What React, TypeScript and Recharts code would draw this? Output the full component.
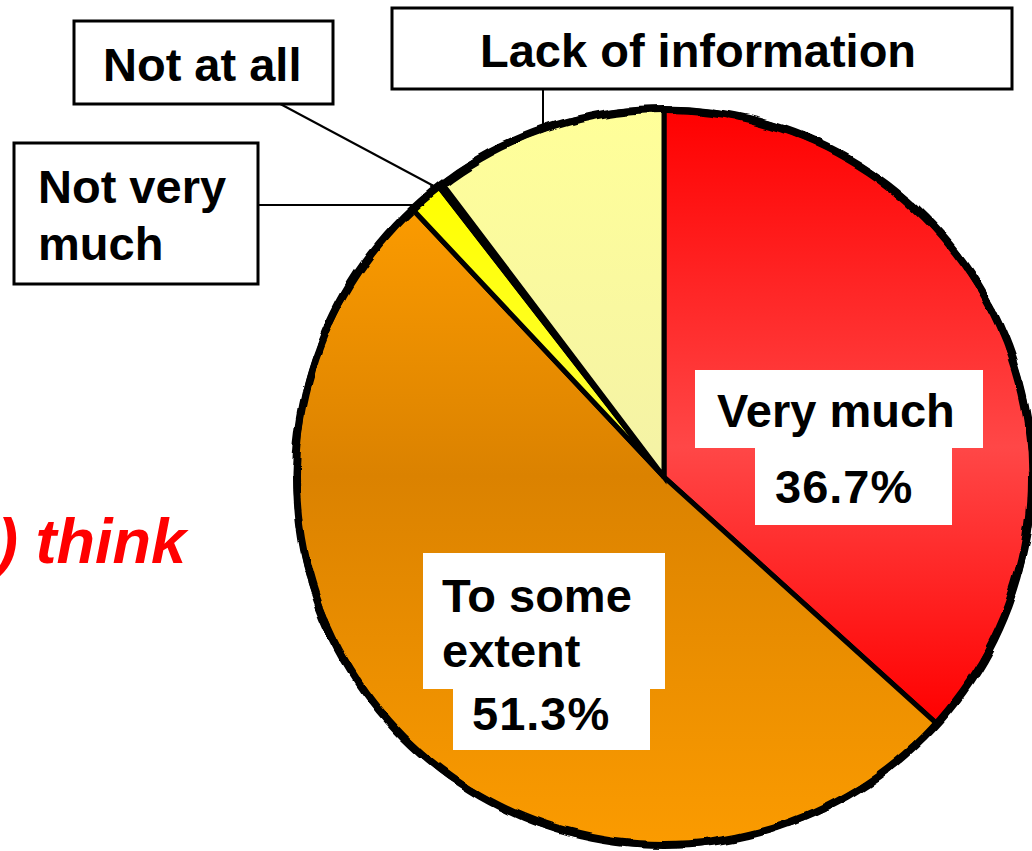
import React from "react";
import { PieChart, Pie, Cell } from "recharts";

const categories = ["Very much", "To some extent", "Not very much", "Not at all", "Lack of information"];
const values = [36.7, 51.3, 1.5, 0.2, 10.3];
const labelLines = [["Very much"], ["To some", "extent"], ["Not very", "much"], ["Not at all"], ["Lack of information"]];
const percentLabels = ["36.7%", "51.3%", "", "", ""];
const sliceFills = ["url(#gRed)", "url(#gOrange)", "url(#gYellow)", "url(#gYellow)", "url(#gPale)"];
const titleFragment = ") think";

const data = categories.map((name, i) => ({ name, value: values[i] }));
const ringData = [{ name: "outline", value: 1 }];

const FONT = "'Liberation Sans', Arial, Helvetica, sans-serif";
const RAD = Math.PI / 180;

const textStyle: any = { fontFamily: FONT, fontWeight: 700, fontSize: 47, fill: "#000" };

const renderLabel = (props: any) => {
  const { cx, cy, outerRadius, index, midAngle } = props;
  const pt = (ang: number, r: number) => [cx + r * Math.cos(-ang * RAD), cy + r * Math.sin(-ang * RAD)];
  const lines = labelLines[index];
  const pct = percentLabels[index];
  if (index === 0) {
    return (
      <g key="l0">
        <rect x={cx + 31} y={cy - 107} width={288} height={78} fill="#fff" />
        <rect x={cx + 91} y={cy - 31} width={197} height={79} fill="#fff" />
        <text x={cx + 53} y={cy - 50} {...textStyle}>{lines[0]}</text>
        <text x={cx + 111} y={cy + 26} {...textStyle} letterSpacing={1}>{pct}</text>
      </g>
    );
  }
  if (index === 1) {
    return (
      <g key="l1">
        <rect x={cx - 241} y={cy + 76} width={242} height={136} fill="#fff" />
        <rect x={cx - 211} y={cy + 210} width={197} height={63} fill="#fff" />
        <text x={cx - 222} y={cy + 135} {...textStyle}>{lines[0]}</text>
        <text x={cx - 222} y={cy + 190} {...textStyle}>{lines[1]}</text>
        <text x={cx - 192} y={cy + 253} {...textStyle} letterSpacing={1}>{pct}</text>
      </g>
    );
  }
  if (index === 2) {
    const ly = cy - 272;
    const ex = cx - Math.sqrt(outerRadius * outerRadius - 272 * 272) + 8;
    return (
      <g key="l2">
        <line x1={cx - 406} y1={ly} x2={ex} y2={ly} stroke="#000" strokeWidth={2} />
        <rect x={cx - 650} y={cy - 334} width={244} height={141} fill="#fff" stroke="#000" strokeWidth={3} />
        <text x={cx - 626} y={cy - 274} {...textStyle}>{lines[0]}</text>
        <text x={cx - 626} y={cy - 217} {...textStyle}>{lines[1]}</text>
      </g>
    );
  }
  if (index === 3) {
    const [ex, ey] = pt(midAngle, outerRadius - 10);
    return (
      <g key="l3">
        <line x1={cx - 393} y1={cy - 378} x2={ex} y2={ey} stroke="#000" strokeWidth={2} />
        <rect x={cx - 590} y={cy - 456} width={259} height={83} fill="#fff" stroke="#000" strokeWidth={3} />
        <text x={cx - 561} y={cy - 396} {...textStyle}>{lines[0]}</text>
      </g>
    );
  }
  if (index === 4) {
    const lx = cx - 121;
    const ey = cy - Math.sqrt(outerRadius * outerRadius - 121 * 121);
    return (
      <g key="l4">
        <line x1={lx} y1={cy - 390} x2={lx} y2={ey} stroke="#000" strokeWidth={2} />
        <rect x={cx - 272} y={cy - 469} width={620} height={81} fill="#fff" stroke="#000" strokeWidth={3} />
        <text x={cx - 184} y={cy - 410} {...textStyle}>{lines[0]}</text>
      </g>
    );
  }
  return null;
};

export default function App() {
  return (
    <div style={{ position: "absolute", left: 0, top: 0, width: 1032, height: 851, background: "#fff", overflow: "hidden" }}>
      <svg width={0} height={0} style={{ position: "absolute" }}>
        <defs>
          <linearGradient id="gRed" x1="0" y1="0" x2="0" y2="1">
            <stop offset="0" stopColor="#FF0000" />
            <stop offset="0.55" stopColor="#FF4747" />
            <stop offset="1" stopColor="#FF0000" />
          </linearGradient>
          <linearGradient id="gOrange" x1="0" y1="0" x2="0" y2="1">
            <stop offset="0" stopColor="#FB9B00" />
            <stop offset="0.42" stopColor="#DB8200" />
            <stop offset="1" stopColor="#FB9B00" />
          </linearGradient>
          <linearGradient id="gYellow" x1="0" y1="0" x2="0" y2="1">
            <stop offset="0" stopColor="#FFFF00" />
            <stop offset="1" stopColor="#FFFF3A" />
          </linearGradient>
          <linearGradient id="gPale" x1="0" y1="0" x2="0" y2="1">
            <stop offset="0" stopColor="#FFFF99" />
            <stop offset="1" stopColor="#F4F2A6" />
          </linearGradient>
          <filter id="wobble" x="-5%" y="-5%" width="110%" height="110%">
            <feTurbulence type="fractalNoise" baseFrequency="0.025" numOctaves="2" seed="4" result="n" />
            <feDisplacementMap in="SourceGraphic" in2="n" scale="9" xChannelSelector="R" yChannelSelector="G" />
          </filter>
        </defs>
      </svg>
      <PieChart width={1032} height={851} margin={{ top: 0, right: 0, bottom: 0, left: 0 }}>
        <Pie
          data={data}
          dataKey="value"
          nameKey="name"
          cx={664}
          cy={477}
          outerRadius={368}
          startAngle={90}
          endAngle={-270}
          isAnimationActive={false}
          stroke="#000"
          strokeWidth={5}
          label={renderLabel}
          labelLine={false}
        >
          {data.map((d, i) => (
            <Cell key={d.name} fill={sliceFills[i]} stroke="#000" strokeWidth={5} />
          ))}
        </Pie>
        <Pie
          data={ringData}
          dataKey="value"
          cx={664}
          cy={477}
          innerRadius={364}
          outerRadius={372}
          startAngle={90}
          endAngle={-270}
          isAnimationActive={false}
          stroke="none"
          label={false}
          labelLine={false}
        >
          <Cell fill="#000" stroke="none" filter="url(#wobble)" />
        </Pie>
      </PieChart>
      <svg width={1032} height={851} style={{ position: "absolute", left: 0, top: 0, pointerEvents: "none" }}>
        <text x={186} y={563} textAnchor="end" fontFamily={FONT} fontWeight={700} fontStyle="italic" fontSize={63} fill="#FF0000">
          {titleFragment}
        </text>
      </svg>
    </div>
  );
}
